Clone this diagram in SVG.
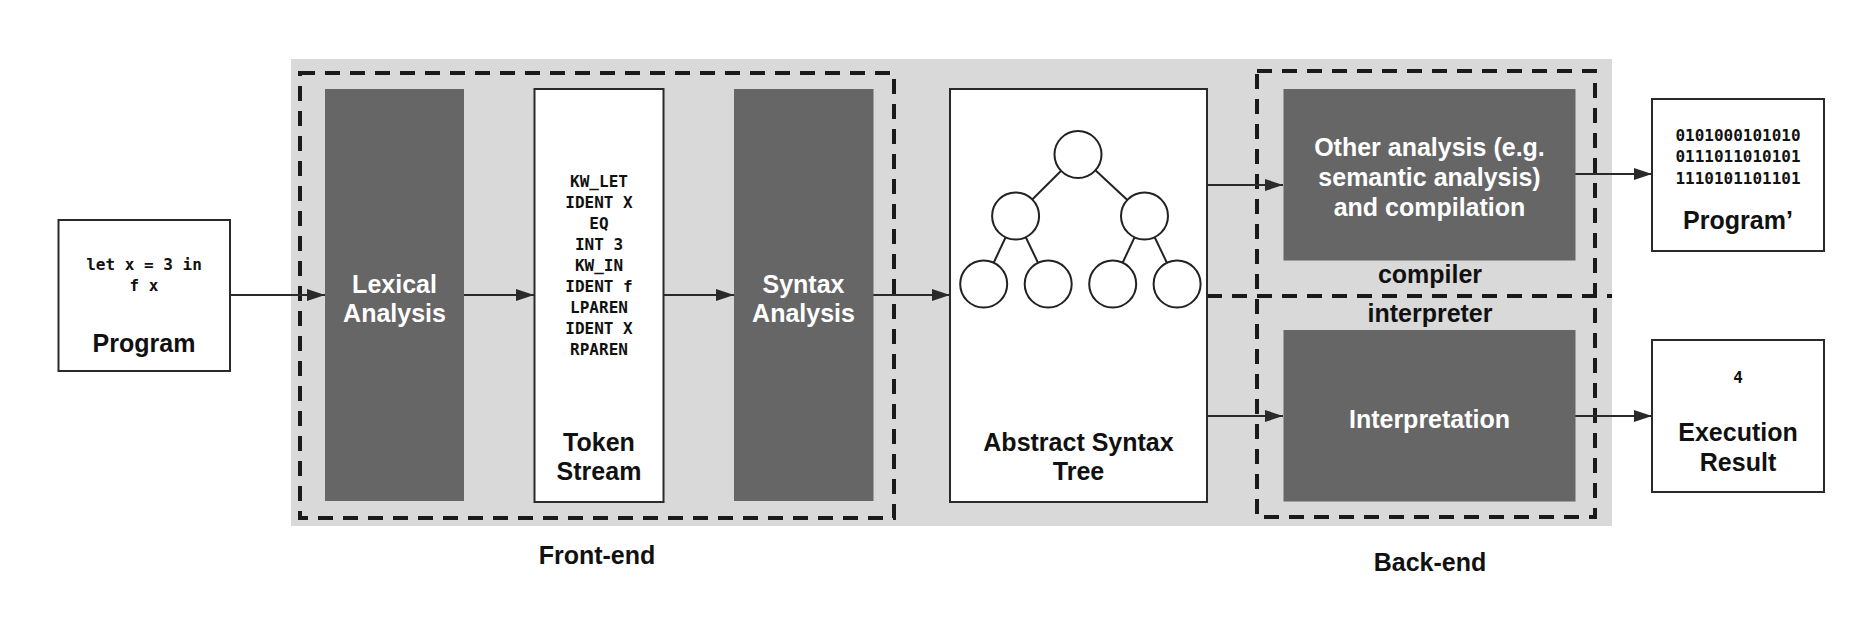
<svg xmlns="http://www.w3.org/2000/svg" width="1872" height="628" viewBox="0 0 1872 628">
<style>
.box{fill:#fff;stroke:#2a2a2a;stroke-width:2}
.dark{fill:#666666}
.dash{fill:none;stroke:#1a1a1a;stroke-width:4;stroke-dasharray:15 10}
.lbl{font-family:"Liberation Sans",Arial,Helvetica,sans-serif;font-weight:bold;font-size:25px;fill:#111;text-anchor:middle}
.wl{font-family:"Liberation Sans",Arial,Helvetica,sans-serif;font-weight:bold;font-size:25px;fill:#fff;text-anchor:middle}
.mono{font-family:"DejaVu Sans Mono","Liberation Mono",monospace;font-weight:bold;font-size:16px;fill:#111;text-anchor:middle}
.conn{stroke:#2a2a2a;stroke-width:2;fill:none;marker-end:url(#ah)}
.tree line{stroke:#222;stroke-width:2}
.tree circle{fill:#fff;stroke:#222;stroke-width:2}
</style>
<defs>
<marker id="ah" markerUnits="userSpaceOnUse" markerWidth="18" markerHeight="12" refX="18" refY="6" orient="auto">
<path d="M0,0 L18,6 L0,12 z" fill="#2a2a2a"/>
</marker>
</defs>
<rect width="1872" height="628" fill="#fff"/>
<rect id="bg" x="291" y="59" width="1321" height="467" fill="#d9d9d9"/>

<g id="frontend">
<rect class="dash" x="300" y="73" width="594" height="445"/>
<text class="lbl" x="597" y="563.5">Front-end</text>
</g>
<g id="backend">
<rect class="dash" x="1257" y="71" width="338" height="446"/>
<line class="dash" x1="1207" y1="296" x2="1612" y2="296"/>
<text class="lbl" x="1430" y="283">compiler</text>
<text class="lbl" x="1430" y="322">interpreter</text>
<text class="lbl" x="1430" y="570.5">Back-end</text>
</g>

<g id="connectors">
<line class="conn" x1="230" y1="295" x2="325" y2="295"/>
<line class="conn" x1="464" y1="295" x2="534" y2="295"/>
<line class="conn" x1="663" y1="295" x2="734" y2="295"/>
<line class="conn" x1="873" y1="295" x2="950" y2="295"/>
<line class="conn" x1="1207" y1="185" x2="1283" y2="185"/>
<line class="conn" x1="1207" y1="416" x2="1283" y2="416"/>
<line class="conn" x1="1575" y1="174" x2="1652" y2="174"/>
<line class="conn" x1="1575" y1="416" x2="1652" y2="416"/>
</g>

<g id="program">
<rect class="box" x="58.5" y="220" width="171.5" height="151"/>
<text class="mono" x="144" y="269.5">let x = 3 in</text>
<text class="mono" x="144" y="290.5">f x</text>
<text class="lbl" x="144" y="351.5">Program</text>
</g>

<g id="lexical">
<rect class="dark" x="325" y="89" width="139" height="412"/>
<text class="wl" x="394.5" y="292.5">Lexical</text>
<text class="wl" x="394.5" y="321.5">Analysis</text>
</g>

<g id="tokens">
<rect class="box" x="534.5" y="89" width="129" height="413"/>
<text class="mono" x="599" y="186.5">KW_LET</text>
<text class="mono" x="599" y="207.5">IDENT X</text>
<text class="mono" x="599" y="228.5">EQ</text>
<text class="mono" x="599" y="249.5">INT 3</text>
<text class="mono" x="599" y="270.5">KW_IN</text>
<text class="mono" x="599" y="291.5">IDENT f</text>
<text class="mono" x="599" y="312.5">LPAREN</text>
<text class="mono" x="599" y="333.5">IDENT X</text>
<text class="mono" x="599" y="354.5">RPAREN</text>
<text class="lbl" x="599" y="450.5">Token</text>
<text class="lbl" x="599" y="479.5">Stream</text>
</g>

<g id="syntax">
<rect class="dark" x="734" y="89" width="139.5" height="412"/>
<text class="wl" x="803.5" y="292.5">Syntax</text>
<text class="wl" x="803.5" y="321.5">Analysis</text>
</g>

<g id="ast">
<rect class="box" x="950" y="89" width="257" height="413"/>
<g class="tree">
<line x1="1078" y1="154" x2="1015.6" y2="216"/>
<line x1="1078" y1="154" x2="1144.5" y2="216"/>
<line x1="1015.6" y1="216" x2="983.7" y2="284"/>
<line x1="1015.6" y1="216" x2="1048.2" y2="284"/>
<line x1="1144.5" y1="216" x2="1112.7" y2="284"/>
<line x1="1144.5" y1="216" x2="1177.1" y2="284"/>
<circle cx="1078" cy="154.5" r="23.5"/>
<circle cx="1015.6" cy="216" r="23.5"/>
<circle cx="1144.5" cy="216" r="23.5"/>
<circle cx="983.7" cy="284" r="23.5"/>
<circle cx="1048.2" cy="284" r="23.5"/>
<circle cx="1112.7" cy="284" r="23.5"/>
<circle cx="1177.1" cy="284" r="23.5"/>
</g>
<text class="lbl" x="1078.5" y="450.5">Abstract Syntax</text>
<text class="lbl" x="1078.5" y="479.5">Tree</text>
</g>

<g id="other">
<rect class="dark" x="1283.5" y="89" width="292" height="171.5"/>
<text class="wl" x="1429.5" y="155.5">Other analysis (e.g.</text>
<text class="wl" x="1429.5" y="185.5">semantic analysis)</text>
<text class="wl" x="1429.5" y="215.5">and compilation</text>
</g>

<g id="interpretation">
<rect class="dark" x="1283.5" y="330" width="292" height="171.5"/>
<text class="wl" x="1429.5" y="427.5">Interpretation</text>
</g>

<g id="programprime">
<rect class="box" x="1652" y="99" width="172" height="152"/>
<text class="mono" x="1738" y="140.5">0101000101010</text>
<text class="mono" x="1738" y="162">0111011010101</text>
<text class="mono" x="1738" y="183.5">1110101101101</text>
<text class="lbl" x="1738" y="228.5">Program’</text>
</g>

<g id="result">
<rect class="box" x="1652" y="340" width="172" height="152"/>
<text class="mono" x="1738" y="382.5">4</text>
<text class="lbl" x="1738" y="440.5">Execution</text>
<text class="lbl" x="1738" y="470.5">Result</text>
</g>
</svg>
